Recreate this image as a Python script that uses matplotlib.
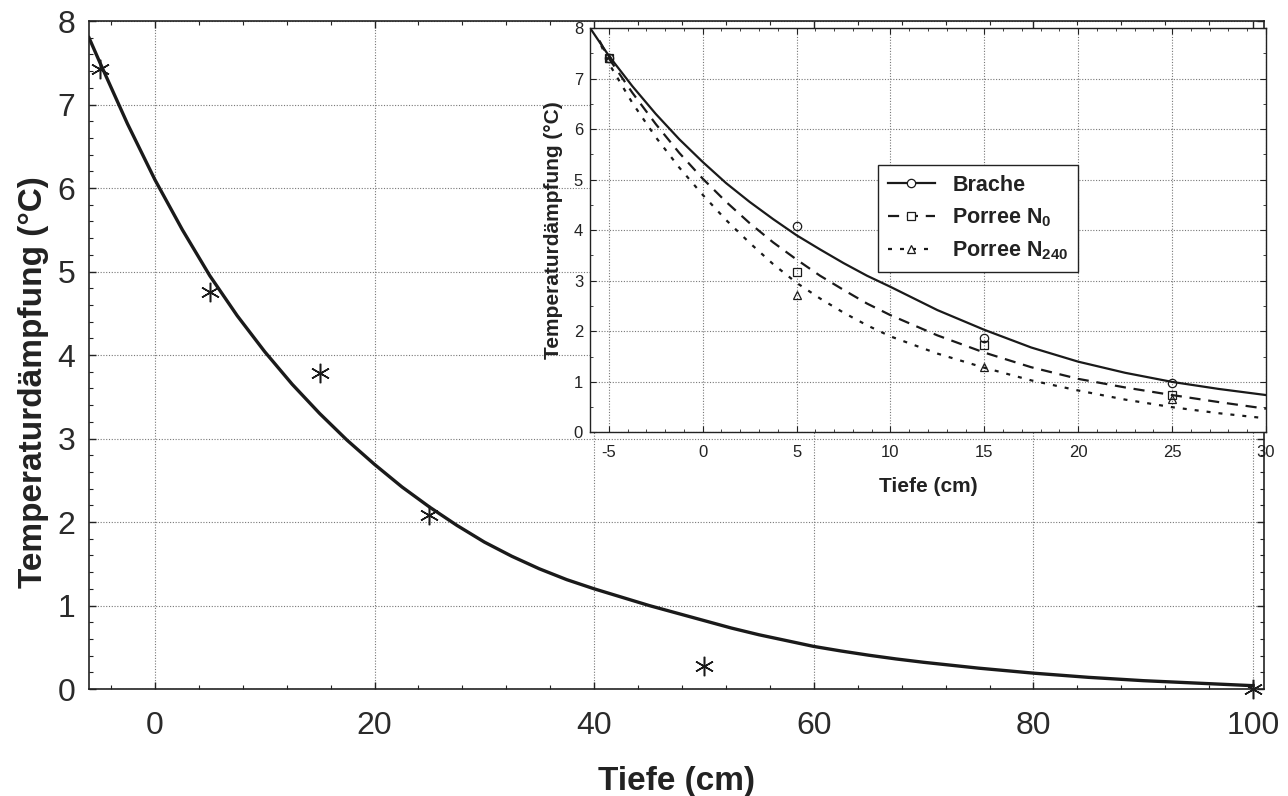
import numpy as np
import matplotlib
matplotlib.use("Agg")
import matplotlib.pyplot as plt
from matplotlib.ticker import MultipleLocator

plt.rcParams['font.family'] = ['Liberation Sans', 'DejaVu Sans']
plt.rcParams['mathtext.fontset'] = 'custom'
plt.rcParams['mathtext.rm'] = 'Liberation Sans:bold'
plt.rcParams['mathtext.default'] = 'rm'
plt.rcParams['axes.unicode_minus'] = False

# ---- main plot: measured points (asterisks) and fitted curve ----
depth_pts = [-5, 5, 15, 25, 50, 100]
damp_pts = [7.42, 4.75, 3.78, 2.08, 0.27, 0.0]

fit_x = [-6, -5, -2.5, 0, 2.5, 5, 7.5, 10, 12.5, 15, 17.5, 20, 22.5, 25, 27.5, 30,
         32.5, 35, 37.5, 40, 42.5, 45, 47.5, 50, 52.5, 55, 57.5, 60, 62.5, 65, 67.5, 70,
         72.5, 75, 77.5, 80, 82.5, 85, 87.5, 90, 92.5, 95, 97.5, 100]
fit_y = [7.8, 7.5, 6.77, 6.1, 5.5, 4.95, 4.47, 4.04, 3.65, 3.3, 2.98, 2.69, 2.42, 2.18, 1.96, 1.76,
         1.59, 1.44, 1.31, 1.2, 1.1, 1.0, 0.91, 0.82, 0.73, 0.65, 0.58, 0.51, 0.455, 0.405, 0.36, 0.32,
         0.285, 0.25, 0.22, 0.19, 0.165, 0.14, 0.12, 0.10, 0.085, 0.07, 0.055, 0.04]

# ---- inset: three treatments ----
ins_depth = [-5, 5, 15, 25]
brache_pts = [7.4, 4.09, 1.87, 0.98]
n0_pts = [7.4, 3.17, 1.72, 0.75]
n240_pts = [7.4, 2.72, 1.30, 0.67]

brache_x = [-6, -5, -3.75, -2.5, -1.25, 0, 1.25, 2.5, 3.75, 5, 6.25, 7.5, 8.75, 10,
            12.5, 15, 17.5, 20, 22.5, 25, 27.5, 30]
brache_y = [8.0, 7.45, 6.85, 6.3, 5.8, 5.35, 4.93, 4.56, 4.22, 3.9, 3.62, 3.35, 3.1, 2.88,
            2.42, 2.03, 1.68, 1.4, 1.18, 1.0, 0.86, 0.74]
n0_x = [-5.5, -5, -3.75, -2.5, -1.25, 0, 1.25, 2.5, 3.75, 5, 6.25, 7.5, 8.75, 10,
        12.5, 15, 17.5, 20, 22.5, 25, 27.5, 30]
n0_y = [7.75, 7.4, 6.72, 6.1, 5.53, 5.02, 4.56, 4.14, 3.76, 3.42, 3.1, 2.82, 2.55, 2.32,
        1.92, 1.58, 1.29, 1.06, 0.89, 0.74, 0.6, 0.47]
n240_x = [-5.4, -5, -3.75, -2.5, -1.25, 0, 1.25, 2.5, 3.75, 5, 6.25, 7.5, 8.75, 10,
          12.5, 15, 17.5, 20, 22.5, 25, 27.5, 30]
n240_y = [7.65, 7.3, 6.52, 5.84, 5.24, 4.7, 4.2, 3.75, 3.33, 2.96, 2.65, 2.37, 2.12, 1.9,
          1.56, 1.28, 1.03, 0.83, 0.65, 0.5, 0.38, 0.28]

fig = plt.figure(figsize=(12.88, 7.96), dpi=100)
fig.patch.set_facecolor('white')

grid_kw = dict(color='#777777', linestyle=(0, (1, 1.5)), linewidth=0.8)

# main axes
ax = fig.add_axes([0.0691, 0.1344, 0.9123, 0.8392])
ax.plot(fit_x, fit_y, color='#1a1a1a', linewidth=2.4, zorder=3)
ax.plot(depth_pts, damp_pts, linestyle='none', marker=(6, 2, 0), markersize=14,
        markeredgewidth=1.1, color='#1a1a1a', zorder=4, clip_on=False)
ax.set_xlim(-6, 101)
ax.set_ylim(0, 8)
ax.xaxis.set_major_locator(MultipleLocator(20))
ax.xaxis.set_minor_locator(MultipleLocator(4))
ax.yaxis.set_major_locator(MultipleLocator(1))
ax.yaxis.set_minor_locator(MultipleLocator(0.2))
ax.tick_params(which='both', direction='in', top=True, right=True, color='#222222')
ax.tick_params(which='major', length=5, width=1)
ax.tick_params(which='minor', length=3, width=0.8)
ax.tick_params(axis='x', which='major', labelsize=23, pad=16, labelcolor='#2a2a2a')
ax.tick_params(axis='y', which='major', labelsize=23, pad=10, labelcolor='#2a2a2a')
ax.grid(True, which='major', **grid_kw)
for s in ax.spines.values():
    s.set_linewidth(1.2)
    s.set_color('#222222')
ax.set_xlabel('Tiefe (cm)', fontsize=24, fontweight='bold', labelpad=18, color='#222222')
ax.set_ylabel('Temperaturdämpfung (°C)', fontsize=24, fontweight='bold', color='#222222')
ax.yaxis.set_label_coords(-0.034, 0.46)

# inset axes
ins = fig.add_axes([0.4581, 0.4567, 0.5248, 0.5082])
ins.set_facecolor('white')
ins.set_zorder(5)
ins.plot(brache_x, brache_y, color='#1a1a1a', linewidth=1.6, linestyle='-')
ins.plot(n0_x, n0_y, color='#1a1a1a', linewidth=1.6, linestyle=(0, (5, 3.5)))
ins.plot(n240_x, n240_y, color='#1a1a1a', linewidth=1.6, linestyle=(0, (1.8, 3.6)))
ins.plot(ins_depth, brache_pts, linestyle='none', marker='o', markersize=6,
         markerfacecolor='none', markeredgecolor='#1a1a1a', markeredgewidth=0.9)
ins.plot(ins_depth, n0_pts, linestyle='none', marker='s', markersize=6,
         markerfacecolor='none', markeredgecolor='#1a1a1a', markeredgewidth=0.9)
ins.plot(ins_depth, n240_pts, linestyle='none', marker='^', markersize=6,
         markerfacecolor='none', markeredgecolor='#1a1a1a', markeredgewidth=0.9)

# legend handles: line + marker
h1, = ins.plot([], [], color='#1a1a1a', linewidth=1.6, linestyle='-', marker='o',
               markersize=6, markerfacecolor='white', markeredgewidth=0.9)
h2, = ins.plot([], [], color='#1a1a1a', linewidth=1.6, linestyle=(0, (5, 3.5)), marker='s',
               markersize=6, markerfacecolor='white', markeredgewidth=0.9)
h3, = ins.plot([], [], color='#1a1a1a', linewidth=1.6, linestyle=(0, (1.8, 3.6)), marker='^',
               markersize=6, markerfacecolor='white', markeredgewidth=0.9)
leg = ins.legend([h1, h2, h3], ['Brache', 'Porree N$_{0}$', 'Porree N$_{240}$'],
                 loc='upper left', bbox_to_anchor=(0.41, 0.688), fancybox=False,
                 framealpha=1, edgecolor='#222222', handlelength=2.2, handletextpad=0.8,
                 labelspacing=0.5, borderpad=0.45, markerscale=1.0,
                 prop={'size': 15.5, 'weight': 'bold'})
leg.get_frame().set_linewidth(1.0)
for t in leg.get_texts():
    t.set_color('#222222')

ins.set_xlim(-6, 30)
ins.set_ylim(0, 8)
ins.xaxis.set_major_locator(MultipleLocator(5))
ins.xaxis.set_minor_locator(MultipleLocator(1))
ins.yaxis.set_major_locator(MultipleLocator(1))
ins.yaxis.set_minor_locator(MultipleLocator(0.5))
ins.tick_params(which='both', direction='in', top=True, right=True, color='#222222')
ins.tick_params(which='major', length=4, width=0.8)
ins.tick_params(which='minor', length=2, width=0.6)
ins.tick_params(axis='x', which='major', labelsize=12, pad=9, labelcolor='#222222')
ins.tick_params(axis='y', which='major', labelsize=12, pad=5, labelcolor='#222222')
ins.grid(True, which='major', **grid_kw)
for s in ins.spines.values():
    s.set_linewidth(1.0)
    s.set_color('#222222')
ins.set_xlabel('Tiefe (cm)', fontsize=15, fontweight='bold', labelpad=12, color='#222222')
ins.set_ylabel('Temperaturdämpfung (°C)', fontsize=15, fontweight='bold', labelpad=8,
               color='#222222')

fig.savefig('out.png', dpi=100, facecolor='white')
